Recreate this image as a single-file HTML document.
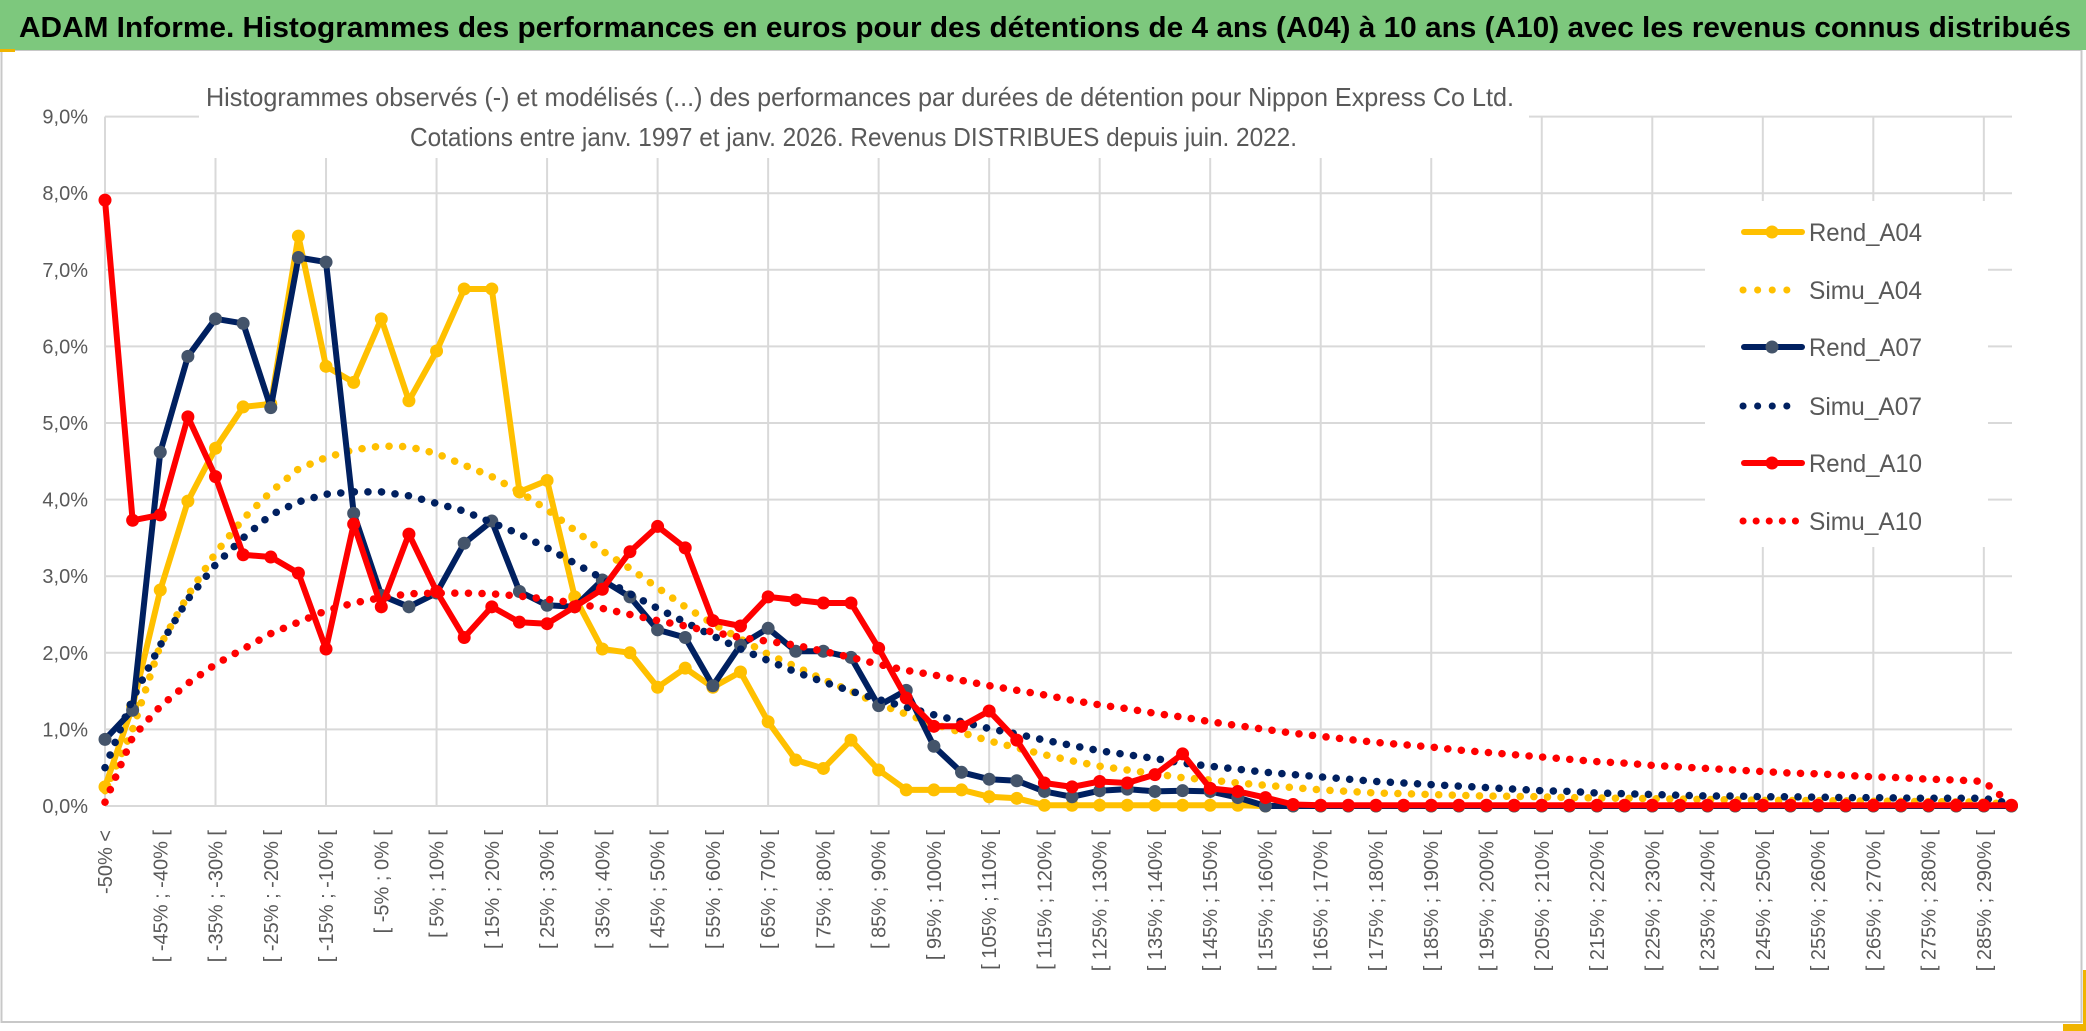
<!DOCTYPE html>
<html><head><meta charset="utf-8"><title>ADAM Informe</title>
<style>
html,body{margin:0;padding:0;background:#fff;}
svg{display:block;font-family:"Liberation Sans",sans-serif;}
</style></head>
<body>
<svg id="chart" width="2086" height="1031" viewBox="0 0 2086 1031" xmlns="http://www.w3.org/2000/svg">
  <rect x="0" y="0" width="2086" height="1031" fill="#fff"/>
  <rect x="1.5" y="50" width="2080" height="972" fill="none" stroke="#c8c8c8" stroke-width="2"/>
  <rect x="0" y="0" width="2086" height="50" fill="#7dc87d"/>
  <rect x="0" y="49" width="15" height="3" fill="#f0b400"/>
  <text x="19" y="37" font-size="29" font-weight="bold" fill="#000" textLength="2052" lengthAdjust="spacingAndGlyphs">ADAM Informe. Histogrammes des performances en euros pour des détentions de 4 ans (A04) à 10 ans (A10) avec les revenus connus distribués</text>
  <rect x="2083" y="970" width="3" height="61" fill="#f0b400"/>
  <rect x="2063" y="1024" width="23" height="7" fill="#f0b400"/>
  <g id="grid"></g>
  <rect x="199" y="60" width="1330" height="98" fill="#fff"/>
  <text x="206" y="106" font-size="26" fill="#595959" textLength="1308" lengthAdjust="spacingAndGlyphs">Histogrammes observés (-) et modélisés (...) des performances  par durées de détention pour Nippon Express Co Ltd.</text>
  <text x="410" y="146" font-size="26" fill="#595959" textLength="887" lengthAdjust="spacingAndGlyphs">Cotations entre janv. 1997 et janv. 2026. Revenus DISTRIBUES depuis juin. 2022.</text>
  <g id="yaxis"></g>
  <g id="xaxis"></g>
  <g id="series"></g>
  <g id="legend"></g>
</svg>
<script>
const categories = [];
categories.push('-50% <');
for (let k = 1; k < 70; k++) { const lo = -50 + 5 * (k - 1); categories.push('[ ' + lo + '% ; ' + (lo + 5) + '% ['); }
const yTicks = [0,1,2,3,4,5,6,7,8,9];
const yTickLabels = ['0,0%','1,0%','2,0%','3,0%','4,0%','5,0%','6,0%','7,0%','8,0%','9,0%'];
const seriesNames = ['Rend_A04','Simu_A04','Rend_A07','Simu_A07','Rend_A10','Simu_A10'];
const rendA04 = [0.25,1.3,2.82,3.98,4.67,5.21,5.25,7.44,5.74,5.53,6.36,5.29,5.94,6.75,6.75,4.10,4.25,2.73,2.05,2.0,1.55,1.8,1.55,1.75,1.1,0.6,0.49,0.86,0.47,0.21,0.21,0.21,0.12,0.1,0.01,0.01,0.01,0.01,0.01,0.01,0.01,0.01,0,0,0,0,0,0,0,0,0,0,0,0,0,0,0,0,0,0,0,0,0,0,0,0,0,0,0,0];
const simuA04 = [0.2,1.0,2.1,2.75,3.3,3.75,4.1,4.4,4.55,4.65,4.7,4.69,4.6,4.45,4.3,4.1,3.87,3.6,3.33,3.1,2.85,2.6,2.38,2.18,1.98,1.82,1.65,1.5,1.33,1.2,1.07,0.96,0.85,0.76,0.67,0.59,0.52,0.47,0.42,0.37,0.34,0.3,0.27,0.24,0.21,0.19,0.17,0.16,0.15,0.14,0.13,0.125,0.12,0.11,0.105,0.1,0.095,0.09,0.085,0.08,0.075,0.072,0.07,0.066,0.063,0.06,0.057,0.054,0.05,0.02];
const rendA07 = [0.87,1.25,4.62,5.87,6.36,6.3,5.2,7.16,7.1,3.82,2.75,2.6,2.78,3.43,3.72,2.80,2.62,2.6,2.95,2.73,2.3,2.2,1.57,2.1,2.32,2.02,2.02,1.94,1.31,1.51,0.78,0.44,0.35,0.33,0.19,0.12,0.2,0.22,0.19,0.2,0.19,0.11,0,0,0,0,0,0,0,0,0,0,0,0,0,0,0,0,0,0,0,0,0,0,0,0,0,0,0,0];
const simuA07 = [0.5,1.4,2.1,2.7,3.15,3.5,3.8,3.97,4.07,4.1,4.1,4.05,3.95,3.85,3.7,3.55,3.37,3.17,2.97,2.77,2.58,2.4,2.22,2.05,1.9,1.75,1.62,1.5,1.39,1.29,1.19,1.1,1.01,0.94,0.86,0.79,0.72,0.67,0.62,0.56,0.52,0.48,0.44,0.41,0.38,0.35,0.32,0.3,0.28,0.26,0.24,0.22,0.2,0.19,0.17,0.16,0.15,0.14,0.13,0.13,0.12,0.12,0.115,0.11,0.11,0.105,0.1,0.1,0.1,0.03];
const rendA10 = [7.91,3.73,3.8,5.08,4.3,3.28,3.25,3.04,2.05,3.68,2.6,3.55,2.80,2.2,2.6,2.4,2.38,2.6,2.83,3.32,3.65,3.37,2.42,2.35,2.73,2.69,2.65,2.65,2.06,1.41,1.04,1.04,1.24,0.86,0.30,0.25,0.32,0.30,0.41,0.68,0.23,0.19,0.11,0.02,0.01,0.01,0.01,0.01,0.01,0.01,0.01,0.01,0.01,0.01,0.01,0.01,0.01,0.01,0.01,0.01,0.01,0.01,0.01,0.01,0.01,0.01,0.01,0.01,0.01,0.01];
const simuA10 = [0.05,0.9,1.3,1.6,1.85,2.05,2.25,2.4,2.55,2.65,2.72,2.77,2.78,2.78,2.77,2.74,2.7,2.65,2.58,2.5,2.42,2.35,2.27,2.2,2.15,2.1,2.02,1.94,1.85,1.77,1.71,1.64,1.57,1.51,1.45,1.38,1.32,1.27,1.21,1.16,1.1,1.05,1.0,0.95,0.91,0.87,0.83,0.8,0.77,0.73,0.7,0.67,0.64,0.61,0.58,0.56,0.53,0.51,0.49,0.47,0.45,0.43,0.42,0.4,0.38,0.37,0.35,0.34,0.32,0.02];

const NS = 'http://www.w3.org/2000/svg';
const X0 = 105, DX = 27.63, Y0 = 806, DY = 76.6;
function xScale(i){ return X0 + i * DX; }
function yScale(v){ return Y0 - v * DY; }
function mk(tag, parent){ const e = document.createElementNS(NS, tag); parent.appendChild(e); return e; }

const grid = document.getElementById('grid');
for (let t = 0; t < yTicks.length; t++) {
  const l = mk('line', grid);
  
  
  l.setAttribute('x1', xScale(0)); l.setAttribute('x2', 2012);
  l.setAttribute('y1', yScale(yTicks[t])); l.setAttribute('y2', yScale(yTicks[t]));
  l.setAttribute('stroke', '#d9d9d9'); l.setAttribute('stroke-width', 2);
}
for (let i = 0; i < categories.length; i += 4) {
  const l = mk('line', grid);
  
  
  l.setAttribute('x1', xScale(i)); l.setAttribute('x2', xScale(i));
  l.setAttribute('y1', yScale(9)); l.setAttribute('y2', yScale(0));
  l.setAttribute('stroke', '#d9d9d9'); l.setAttribute('stroke-width', 2);
}

const yaxis = document.getElementById('yaxis');
for (let t = 0; t < yTicks.length; t++) {
  const tx = mk('text', yaxis);
  
  
  tx.setAttribute('x', 88); tx.setAttribute('y', yScale(yTicks[t]) + 7);
  tx.setAttribute('text-anchor', 'end'); tx.setAttribute('font-size', 20); tx.setAttribute('fill', '#595959');
  tx.textContent = yTickLabels[t];
}

const xaxis = document.getElementById('xaxis');
for (let i = 0; i < categories.length; i += 2) {
  if (i > 68) continue;
  const tx = mk('text', xaxis);
  
  
  const x = xScale(i) + 7, y = 830;
  tx.setAttribute('x', x); tx.setAttribute('y', y);
  tx.setAttribute('transform', 'rotate(-90 ' + x + ' ' + y + ')');
  tx.setAttribute('text-anchor', 'end'); tx.setAttribute('font-size', 20); tx.setAttribute('fill', '#595959');
  tx.textContent = categories[i];
}

const series = document.getElementById('series');
function pts(arr){ return arr.map((v, i) => xScale(i).toFixed(1) + ',' + yScale(v).toFixed(1)).join(' '); }
function drawSimu(arr, color, name){
  const p = mk('polyline', series);
  
  
  p.setAttribute('points', pts(arr));
  p.setAttribute('fill', 'none'); p.setAttribute('stroke', color); p.setAttribute('stroke-width', 7.5);
  p.setAttribute('stroke-linecap', 'round'); p.setAttribute('stroke-dasharray', '0.1 13.5');
}
function drawRend(arr, color, markerColor, name){
  const p = mk('polyline', series);
  
  
  p.setAttribute('points', pts(arr));
  p.setAttribute('fill', 'none'); p.setAttribute('stroke', color); p.setAttribute('stroke-width', 6);
  p.setAttribute('stroke-linejoin', 'round');
  for (let i = 0; i < arr.length; i++) {
    const c = mk('circle', series);
    
    
    c.setAttribute('cx', xScale(i)); c.setAttribute('cy', yScale(arr[i])); c.setAttribute('r', 6.5);
    c.setAttribute('fill', markerColor);
  }
}
drawRend(rendA04, '#ffc000', '#ffc000', 'rend-a04-line');
drawSimu(simuA04, '#ffc000', 'simu-a04-line');
drawRend(rendA07, '#002060', '#44546a', 'rend-a07-line');
drawSimu(simuA07, '#002060', 'simu-a07-line');
drawRend(rendA10, '#ff0000', '#ff0000', 'rend-a10-line');
drawSimu(simuA10, '#ff0000', 'simu-a10-line');

const legend = document.getElementById('legend');
const lb = mk('rect', legend);


lb.setAttribute('x', 1705); lb.setAttribute('y', 201); lb.setAttribute('width', 283); lb.setAttribute('height', 346); lb.setAttribute('fill', '#fff');
const legColors = ['#ffc000','#ffc000','#002060','#002060','#ff0000','#ff0000'];
const legMarkers = ['#ffc000','','#44546a','','#ff0000',''];
const legY = [232, 290, 347, 406, 463, 521];
for (let k = 0; k < seriesNames.length; k++) {
  const g = mk('g', legend);
  
  
  const y = legY[k];
  const l = mk('line', g);
  
  
  l.setAttribute('y1', y); l.setAttribute('y2', y); l.setAttribute('stroke', legColors[k]);
  l.setAttribute('stroke-linecap', 'round');
  if (k % 2 === 0) {
    l.setAttribute('x1', 1744); l.setAttribute('x2', 1802); l.setAttribute('stroke-width', 6);
    const c = mk('circle', g);
    
    
    c.setAttribute('cx', 1772); c.setAttribute('cy', y); c.setAttribute('r', 6.5); c.setAttribute('fill', legMarkers[k]);
  } else {
    l.setAttribute('x1', 1743); l.setAttribute('x2', 1800); l.setAttribute('stroke-width', 7);
    l.setAttribute('stroke-dasharray', k === 5 ? '0.1 13' : '0.1 14.5');
  }
  const t = mk('text', g);
  
  
  t.setAttribute('x', 1809); t.setAttribute('y', y + 9); t.setAttribute('font-size', 25);
  t.setAttribute('fill', '#595959'); t.setAttribute('textLength', 113); t.setAttribute('lengthAdjust', 'spacingAndGlyphs');
  t.textContent = seriesNames[k];
}
</script>
</body></html>
